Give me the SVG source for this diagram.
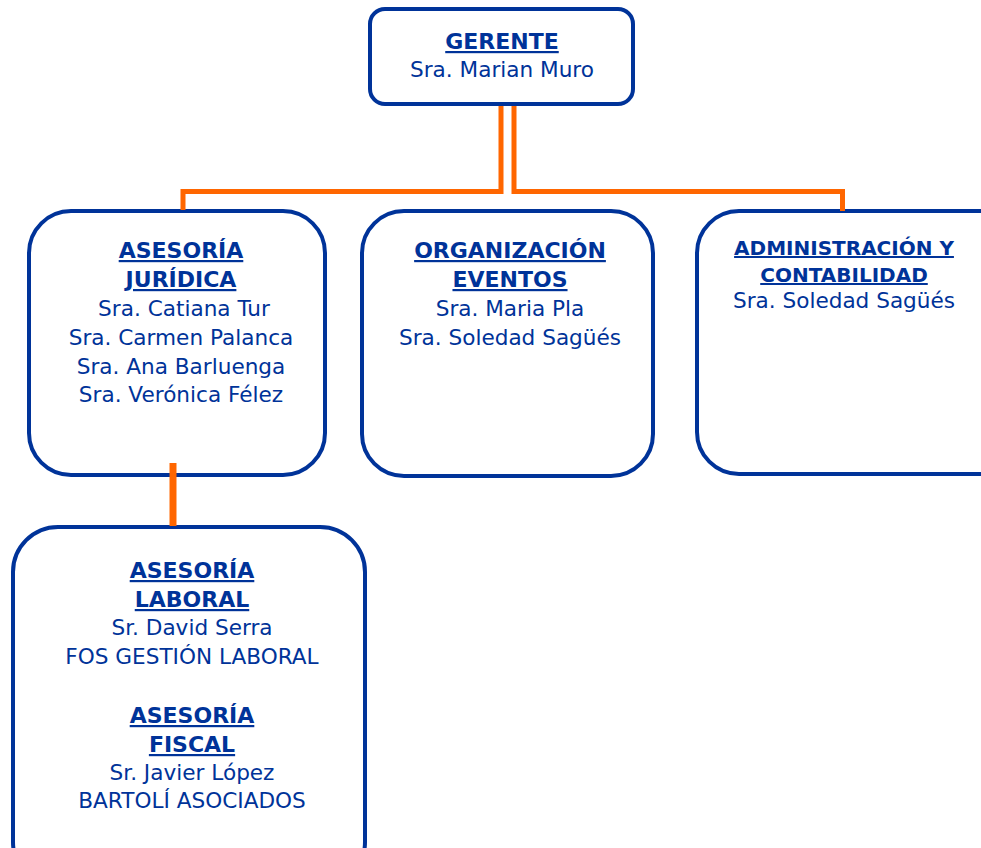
<svg xmlns="http://www.w3.org/2000/svg" width="981" height="848" viewBox="0 0 981 848">
<style>
.box{fill:#fff;stroke:#003399;stroke-width:4}
.t{font-family:"DejaVu Sans","Liberation Sans",sans-serif;font-size:21.6px;fill:#003399;text-anchor:middle}
.h{font-weight:bold;text-decoration:underline;font-size:22px}
.s{font-size:20px}
.c{fill:none;stroke:#FF6600;stroke-width:5}
</style>
<rect width="981" height="848" fill="#fff"/>
<g id="gerente">
<rect class="box" x="370" y="9" width="263" height="95" rx="15"/>
<text class="t h" x="502" y="49">GERENTE</text>
<text class="t" x="502" y="77">Sra. Marian Muro</text>
</g>
<g id="juridica">
<rect class="box" x="29" y="211" width="296" height="264" rx="42"/>
<text class="t h" x="181" y="258">ASESORÍA</text>
<text class="t h" x="181" y="287">JURÍDICA</text>
<text class="t" x="184" y="316">Sra. Catiana Tur</text>
<text class="t" x="181" y="345">Sra. Carmen Palanca</text>
<text class="t" x="181" y="374">Sra. Ana Barluenga</text>
<text class="t" x="181" y="402">Sra. Verónica Félez</text>
</g>
<g id="eventos">
<rect class="box" x="362" y="211" width="291" height="265" rx="42"/>
<text class="t h" x="510" y="258">ORGANIZACIÓN</text>
<text class="t h" x="510" y="287">EVENTOS</text>
<text class="t" x="510" y="316">Sra. Maria Pla</text>
<text class="t" x="510" y="345">Sra. Soledad Sagüés</text>
</g>
<g id="administracion">
<rect class="box" x="697" y="211" width="330" height="263" rx="42"/>
<text class="t h s" x="844" y="255">ADMINISTRACIÓN Y</text>
<text class="t h s" x="844" y="282">CONTABILIDAD</text>
<text class="t" x="844" y="308">Sra. Soledad Sagüés</text>
</g>
<g id="laboral">
<rect class="box" x="13" y="527" width="352" height="360" rx="45"/>
<text class="t h" x="192" y="578">ASESORÍA</text>
<text class="t h" x="192" y="607">LABORAL</text>
<text class="t" x="192" y="635">Sr. David Serra</text>
<text class="t" x="192" y="664">FOS GESTIÓN LABORAL</text>
<text class="t h" x="192" y="723">ASESORÍA</text>
<text class="t h" x="192" y="752">FISCAL</text>
<text class="t" x="192" y="780">Sr. Javier López</text>
<text class="t" x="192" y="808">BARTOLÍ ASOCIADOS</text>
</g>
<g id="connectors">
<polyline class="c" points="501,106 501,191.5 183,191.5 183,210"/>
<polyline class="c" points="514,106 514,191.5 842.5,191.5 842.5,211"/>
<line class="c" x1="173" y1="463" x2="173" y2="526" style="stroke-width:7"/>
</g>
</svg>
